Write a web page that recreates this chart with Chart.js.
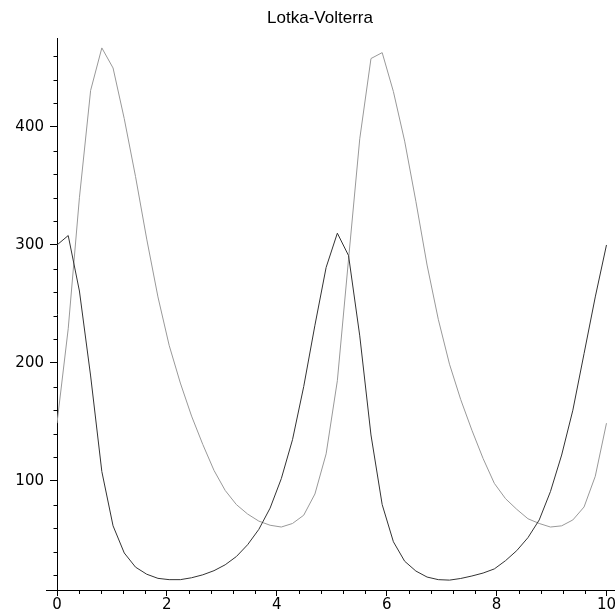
<!DOCTYPE html>
<html>
<head>
<meta charset="utf-8">
<script src="https://cdn.jsdelivr.net/npm/chart.js@4/dist/chart.umd.min.js"></script>
<style>
html,body{margin:0;padding:0;background:#fff;overflow:hidden;width:615px;height:612px}
canvas{display:block}
</style>
</head>
<body>
<canvas id="c" width="640" height="612"></canvas>
<script>
// time samples (50 points over 0..10)
const tValues = [0, 0.204, 0.408, 0.612, 0.816, 1.020, 1.224, 1.429, 1.633, 1.837,
  2.041, 2.245, 2.449, 2.653, 2.857, 3.061, 3.265, 3.469, 3.673, 3.878,
  4.082, 4.286, 4.490, 4.694, 4.898, 5.102, 5.306, 5.510, 5.714, 5.918,
  6.122, 6.327, 6.531, 6.735, 6.939, 7.143, 7.347, 7.551, 7.755, 7.959,
  8.163, 8.367, 8.571, 8.776, 8.980, 9.184, 9.388, 9.592, 9.796, 10];
// dark curve (starts at 300)
const darkSeries = [300, 308, 261, 189, 108, 62, 39, 27, 21, 17.5,
  16.4, 16.4, 18, 20.5, 24, 29, 36, 46, 59, 77,
  102, 135, 180, 232, 281, 310, 291, 223, 139, 80,
  48.5, 32, 23.7, 18.6, 16.4, 16, 17.4, 19.5, 22, 25.5,
  32.5, 41, 52, 67, 91, 122, 160, 208, 256, 300];
// light curve (starts at 150)
const lightSeries = [149, 229, 340, 431, 467, 450, 407, 358, 305, 256,
  215, 183, 155, 131, 109, 92, 80, 72, 66, 62.5,
  61, 64, 71, 89, 123, 185, 288, 390, 458, 463,
  430, 388, 337, 283, 237, 199, 169, 143, 119, 98,
  85, 76, 68, 64, 61, 62, 67, 78, 104, 149];
const titleText = 'Lotka-Volterra';
const xMajorStep = 2, xMinorStep = 0.4;
const yMajorStep = 100, yMinorStep = 20;
const xRange = [0, 10.61];
const yRange = [7.63, 475.4];

const toPoints = arr => arr.map((v, i) => ({x: tValues[i], y: v}));

const minorTicks = {
  id: 'minorTicks',
  afterDraw(chart) {
    const {ctx, scales: {x, y}} = chart;
    ctx.save();
    ctx.strokeStyle = '#000';
    ctx.lineWidth = 1;
    ctx.beginPath();
    const ax = Math.round(x.getPixelForValue(0)) + 0.5;
    const ay = Math.round(y.getPixelForValue(yRange[0])) + 0.5;
    for (let v = yMinorStep; v < yRange[1]; v += yMinorStep) {
      if (Math.abs(v % yMajorStep) < 1e-6) continue;
      const py = Math.round(y.getPixelForValue(v)) + 0.5;
      ctx.moveTo(ax - 4, py); ctx.lineTo(ax, py);
    }
    for (let k = 1; k * xMinorStep < 10.01; k++) {
      const v = k * xMinorStep;
      if (Math.abs(v / xMajorStep - Math.round(v / xMajorStep)) < 1e-6) continue;
      const px = Math.round(x.getPixelForValue(v)) + 0.5;
      ctx.moveTo(px, ay); ctx.lineTo(px, ay + 3.5);
    }
    // small extension of the horizontal axis left of the vertical axis
    ctx.moveTo(x.getPixelForValue(-0.2), ay); ctx.lineTo(ax, ay);
    ctx.stroke();
    ctx.restore();
  }
};

const tickFont = {family: 'DejaVu Sans', size: 15};

new Chart(document.getElementById('c'), {
  type: 'line',
  data: {
    datasets: [
      {data: toPoints(darkSeries), borderColor: '#333333', borderWidth: 1, pointRadius: 0, tension: 0, fill: false},
      {data: toPoints(lightSeries), borderColor: '#999999', borderWidth: 1, pointRadius: 0, tension: 0, fill: false}
    ]
  },
  options: {
    responsive: false,
    animation: false,
    events: [],
    layout: {padding: 0},
    plugins: {
      legend: {display: false},
      tooltip: {enabled: false},
      title: {
        display: true, text: titleText, color: '#000',
        font: {family: 'Liberation Sans', size: 17, weight: 'normal', lineHeight: 1.2},
        padding: {top: 8, bottom: 9.6}
      }
    },
    scales: {
      x: {
        type: 'linear', min: xRange[0], max: xRange[1],
        afterFit(s) { s.height = 22; },
        grid: {display: true, drawOnChartArea: false, drawTicks: true, tickLength: 6, color: '#000'},
        border: {display: true, color: '#000', width: 1},
        ticks: {stepSize: xMajorStep, includeBounds: false, padding: 0, font: tickFont, color: '#000', maxRotation: 0, autoSkip: false}
      },
      y: {
        type: 'linear', min: yRange[0], max: yRange[1],
        afterFit(s) { s.width = 57; },
        grid: {display: true, drawOnChartArea: false, drawTicks: true, tickLength: 7, color: '#000'},
        border: {display: true, color: '#000', width: 1},
        ticks: {stepSize: yMajorStep, includeBounds: false, padding: 6, font: tickFont, color: '#000'}
      }
    }
  },
  plugins: [minorTicks]
});
</script>
</body>
</html>
